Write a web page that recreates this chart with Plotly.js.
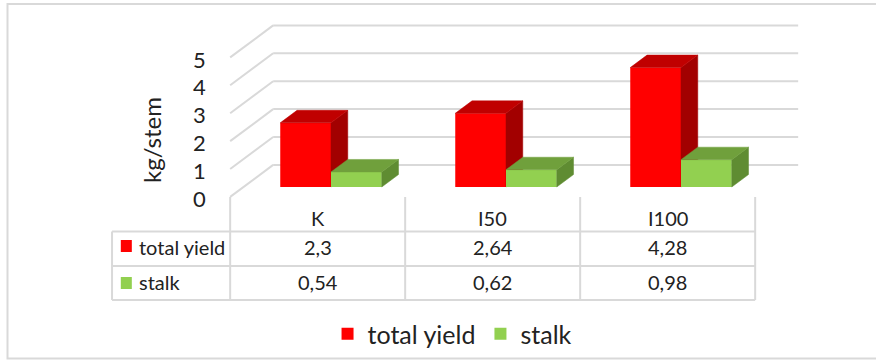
<!DOCTYPE html>
<html>
<head>
<meta charset="utf-8">
<script src="https://cdn.plot.ly/plotly-3.0.1.min.js"></script>
<style>
  html, body { margin: 0; padding: 0; background: #fff; }
  #chart { width: 876px; height: 360px; }
</style>
</head>
<body>
<div id="chart"></div>
<script>
// Yield per stem (kg/stem) by treatment, 3D column chart with data table
const categories = ['K', 'I50', 'I100'];
const seriesNames = ['total yield', 'stalk'];
const totalYield = [2.3, 2.64, 4.28];
const stalk = [0.54, 0.62, 0.98];
const yTicks = [0, 1, 2, 3, 4, 5];
const axisTitle = 'kg/stem';

// ---- geometry / styling ----
const W = 876, H = 360;
const ORIGIN_X = 331, ORIGIN_Y = 187;      // pixel where x=0, value=0 sits on the bar front plane
const PX_CAT = 175, PX_UNIT = 27.9;        // pixels per category / per kg
const DEPTH_X = 43 / PX_CAT;               // full floor depth, in data units
const DEPTH_Y = 32 / PX_UNIT;
const T_FRONT = 0.31, T_BACK = 0.70;       // bar depth span (0 = front edge, 1 = back wall)
const BAR_W = 0.29;
const LEGEND_COL_W = 0.675;                // width of the series-name column of the table

const FONT = 'Lato, "Open Sans", sans-serif';
const TEXT = '#222222';
const GRID = '#d9d9d9';
const faceColors = [
  { front: '#ff0000', top: '#c00000', side: '#a20000' },
  { front: '#92d050', top: '#70a03c', side: '#5f8c32' }
];
const seriesValues = [totalYield, stalk];

// oblique projection of a 3D point (category x, value, depth) onto the 2D axes
function proj(x3, v, t) {
  return [x3 + (t - T_FRONT) * DEPTH_X, v + (t - T_FRONT) * DEPTH_Y];
}
const py = p => 1 - p / H;   // pixel row -> paper y
const fmt = v => String(v).replace('.', ',');

const traces = [];
seriesValues.forEach((vals, k) => {
  const xa = k === 0 ? 'x' : 'x2';
  const ya = k === 0 ? 'y' : 'y2';
  const c = faceColors[k];
  // front faces
  traces.push({
    type: 'bar', name: seriesNames[k], x: categories.map((_, i) => i), y: vals,
    base: 0, width: BAR_W, offset: k === 0 ? -BAR_W : 0,
    marker: { color: c.front, line: { width: 0 } },
    xaxis: xa, yaxis: ya, hoverinfo: 'skip'
  });
  // side and top faces
  vals.forEach((v, i) => {
    const xl = k === 0 ? i - BAR_W : i;
    const xr = xl + BAR_W;
    const side = [proj(xr, 0, T_FRONT), proj(xr, v, T_FRONT), proj(xr, v, T_BACK), proj(xr, 0, T_BACK), proj(xr, 0, T_FRONT)];
    const top = [proj(xl, v, T_FRONT), proj(xr, v, T_FRONT), proj(xr, v, T_BACK), proj(xl, v, T_BACK), proj(xl, v, T_FRONT)];
    [[side, c.side], [top, c.top]].forEach(([poly, col]) => {
      traces.push({
        type: 'scatter', mode: 'lines', fill: 'toself', fillcolor: col,
        x: poly.map(p => p[0]), y: poly.map(p => p[1]),
        line: { color: col, width: 0.5 },
        xaxis: xa, yaxis: ya, showlegend: false, hoverinfo: 'skip'
      });
    });
  });
});

const shapes = [];
const line = (x0, y0, x1, y1, xref, yref) => shapes.push({
  type: 'line', x0, y0, x1, y1, xref, yref, layer: 'below',
  line: { color: GRID, width: 2 }
});

// back wall and side wall gridlines
const xFirst = -0.5, xLast = categories.length - 0.5;
yTicks.forEach(v => {
  const a = proj(xFirst, v, 1), b = proj(xLast, v, 1), f = proj(xFirst, v, 0);
  line(a[0], a[1], b[0], b[1], 'x', 'y');
  line(f[0], f[1], a[0], a[1], 'x', 'y');
});

// data table grid
const tableLeft = proj(xFirst - LEGEND_COL_W, 0, 0)[0];
const tableRight = proj(xLast, 0, 0)[0];
const rowLines = [231.5, 266, 300];
for (let i = 0; i <= categories.length; i++) {
  const x = proj(xFirst + i, 0, 0)[0];
  line(x, py(197), x, py(300), 'x', 'paper');
}
line(tableLeft, py(231.5), tableLeft, py(300), 'x', 'paper');
rowLines.forEach(r => line(tableLeft, py(r), tableRight, py(r), 'x', 'paper'));

// legend keys inside the table
const keyRows = [[240, 252], [277, 289]];
seriesNames.forEach((n, k) => shapes.push({
  type: 'rect', xref: 'x', yref: 'paper',
  x0: tableLeft + 0.05, x1: tableLeft + 0.113,
  y0: py(keyRows[k][1]), y1: py(keyRows[k][0]),
  fillcolor: faceColors[k].front, line: { width: 0 }
}));

// outer chart border
shapes.push({ type: 'rect', xref: 'paper', yref: 'paper', x0: 7.5 / W, x1: 1.02, y0: py(358.5), y1: py(4),
  line: { color: GRID, width: 2 }, fillcolor: 'rgba(0,0,0,0)' });

const annotations = [];
const ann = (o) => annotations.push(Object.assign({ showarrow: false, font: { family: FONT, size: 20, color: TEXT } }, o));

// value axis labels on the front edge of the side wall
yTicks.forEach(v => {
  const p = proj(xFirst, v, 0);
  ann({ x: p[0] - 0.128, y: p[1] - 0.06, xref: 'x', yref: 'y', xanchor: 'right', yanchor: 'middle',
    text: String(v), font: { family: FONT, size: 22, color: TEXT } });
});
ann({ x: 152 / W, y: py(140), xref: 'paper', yref: 'paper', text: axisTitle, textangle: -90,
  xanchor: 'center', yanchor: 'middle', font: { family: FONT, size: 24, color: TEXT } });

// table: category header and value cells
const rowCenters = [246.5, 282];
categories.forEach((c, i) => {
  const x = proj(i, 0, 0)[0];
  ann({ x, y: py(218), xref: 'x', yref: 'paper', text: c, xanchor: 'center', yanchor: 'middle' });
  seriesValues.forEach((vals, k) => ann({ x, y: py(rowCenters[k]), xref: 'x', yref: 'paper',
    text: fmt(vals[i]), xanchor: 'center', yanchor: 'middle' }));
});
seriesNames.forEach((n, k) => ann({ x: tableLeft + 0.142, y: py(rowCenters[k]), xref: 'x', yref: 'paper',
  text: n, xanchor: 'left', yanchor: 'middle' }));

const xRange = [-ORIGIN_X / PX_CAT, (W - ORIGIN_X) / PX_CAT];
const yRange = [-(H - ORIGIN_Y) / PX_UNIT, ORIGIN_Y / PX_UNIT];
const hidden = { visible: false, fixedrange: true, showgrid: false, zeroline: false };

const layout = {
  width: W, height: H,
  margin: { l: 0, r: 0, t: 0, b: 0 },
  paper_bgcolor: '#ffffff', plot_bgcolor: 'rgba(0,0,0,0)',
  barmode: 'overlay',
  xaxis: Object.assign({ range: xRange, domain: [0, 1] }, hidden),
  yaxis: Object.assign({ range: yRange, domain: [0, 1] }, hidden),
  xaxis2: Object.assign({ range: xRange, overlaying: 'x', anchor: 'y2' }, hidden),
  yaxis2: Object.assign({ range: yRange, overlaying: 'y', anchor: 'x2' }, hidden),
  showlegend: true,
  legend: {
    orientation: 'h', x: 0.5166, xanchor: 'center', y: py(334), yanchor: 'middle',
    font: { family: FONT, size: 25, color: TEXT }, bgcolor: 'rgba(0,0,0,0)', itemclick: false
  },
  shapes, annotations
};

Plotly.newPlot('chart', traces, layout, { staticPlot: true, displayModeBar: false });
</script>
</body>
</html>
